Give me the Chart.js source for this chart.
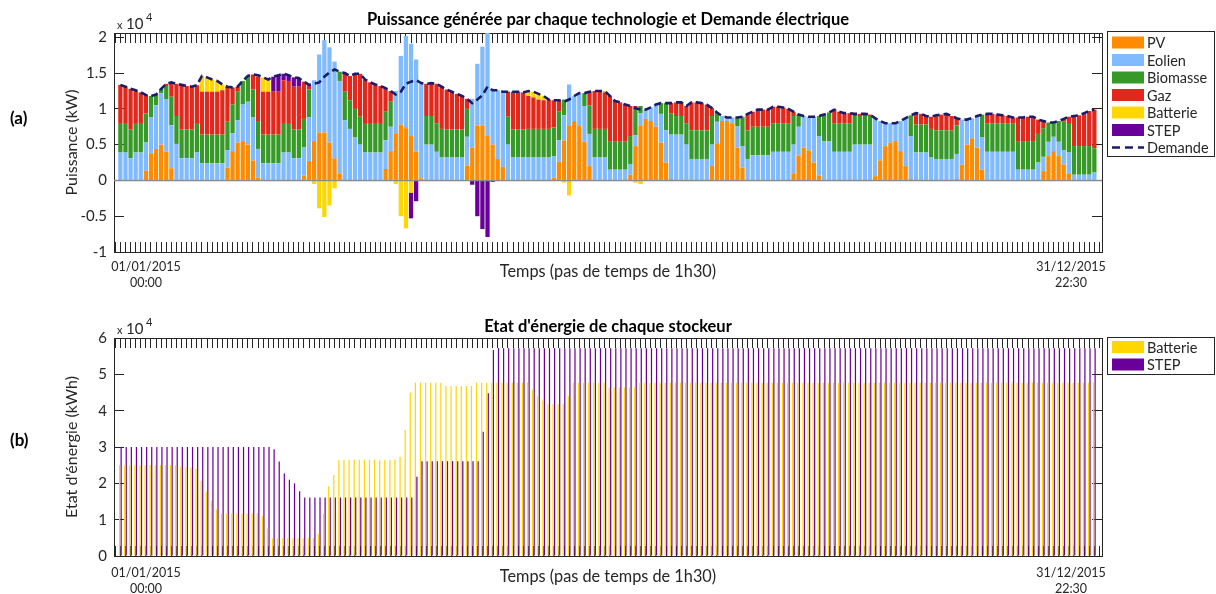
<!DOCTYPE html>
<html lang="fr">
<head>
<meta charset="utf-8">
<title>Puissance et état d'énergie</title>
<script src="https://cdn.jsdelivr.net/npm/chart.js@4.4.1/dist/chart.umd.min.js"></script>
<style>
  html, body { margin: 0; padding: 0; background: #fff; }
  #page { position: relative; width: 1216px; height: 594px; }
  #page canvas { position: absolute; left: 0; }
</style>
</head>
<body>
<div id="page">
  <canvas id="powerChart" width="1216" height="297" style="top:0"></canvas>
  <canvas id="stockChart" width="1216" height="297" style="top:297px"></canvas>
</div>
<script>
// 12 journées types, 16 pas de 1h30 chacune (une ligne = une journée), en kW
const pv = [
  0,0,0,0,0,1350,3800,4400,5000,4000,1700,0,0,0,0,0,
  0,0,0,0,0,1800,4100,5300,5500,5000,2800,400,0,0,0,0,
  0,0,0,0,650,2700,5500,6700,6700,5300,3100,1000,0,0,0,0,
  0,0,0,0,1600,4100,6600,7800,7300,6200,4000,300,0,0,0,0,
  0,0,0,0,2100,4600,7700,7700,6200,5000,3000,1900,0,0,0,0,
  0,0,0,0,0,400,2600,5600,7600,8300,7600,5400,2000,0,0,0,
  0,0,0,0,800,4800,7700,8600,8300,7500,5300,2500,200,0,0,0,
  0,0,0,0,2000,5200,8300,8300,8000,4600,1800,0,0,0,0,0,
  0,0,0,0,1000,3500,4600,4200,2500,700,0,0,0,0,0,0,
  0,0,0,0,600,2800,4800,5300,5500,4100,2000,200,0,0,0,0,
  0,0,0,0,200,2200,5000,5900,4600,1500,0,0,0,0,0,0,
  0,0,0,0,0,1300,3400,4100,3400,2200,900,0,0,0,0,0
];
const eolien = [
  3900,3900,3100,3900,3900,3950,5000,6100,7200,7300,6000,5100,3100,3100,3100,3900,
  2400,2400,2400,2400,2400,2400,2500,3100,5100,6000,6000,4000,2400,2400,2400,2400,
  3900,3900,3100,3100,3950,6100,8500,10900,12900,13300,13500,12900,8400,7200,6000,5000,
  3900,3900,3900,3900,4000,3400,5900,9600,12900,12900,12900,13300,5000,5000,4000,3200,
  3200,3200,3200,3200,4000,6800,8600,11000,14800,7800,9600,10500,5000,3200,3200,3200,
  3200,3200,3200,3200,3200,3000,3000,3500,5800,3500,4600,5000,4500,3200,3200,3200,
  1500,1500,1500,1500,1500,1500,1700,1300,1900,3100,4000,4500,6200,6400,6400,5000,
  3000,3000,3000,3000,3000,3000,700,500,800,3000,3000,3000,3500,3500,3500,3500,
  4000,4000,4000,4000,4000,4000,4400,4700,6400,5500,5500,5500,4000,4000,4000,4000,
  5000,5000,5000,5000,8100,5500,3200,2700,2500,4200,6700,6000,3900,3900,3900,3200,
  3000,3000,3000,3000,3500,6300,3500,2800,4400,4500,4000,4000,4000,4000,4000,4000,
  1500,1500,1500,1500,2500,2000,2000,2000,2000,2000,3000,800,800,800,800,1100
];
const biomasse = [
  4000,4000,4000,4000,4000,4050,3000,1500,600,1900,4000,3900,4000,4000,4000,4000,
  4000,4000,4000,4000,4000,4000,4000,4000,3300,3600,3900,3900,4000,4000,4000,4000,
  4000,4000,4000,4000,4000,3900,0,0,0,0,0,1300,4000,4000,4000,3900,
  4000,4000,4000,4000,4000,3500,0,0,0,0,0,0,4000,4000,4000,4000,
  3900,3900,3900,3900,3900,0,0,0,0,0,0,0,3900,3900,3900,3900,
  4000,4000,4000,4000,4000,4000,4000,2200,0,0,0,1800,4000,4000,4000,4000,
  3900,3900,3900,3900,3900,3900,1000,0,0,0,1500,3800,3000,2600,2600,3000,
  4000,4000,4000,4000,4000,1300,0,0,0,1200,4000,4000,4000,4000,4000,4000,
  4000,4000,4000,4000,4000,1700,0,0,0,2800,3700,4000,4000,4000,4000,4000,
  4000,4000,4000,4000,0,0,0,0,0,0,0,2900,3900,3900,3900,4000,
  4000,4000,4000,4000,4000,0,0,0,0,3200,4000,4000,4000,4000,4000,4000,
  4000,4000,4000,4000,4000,4000,2700,2000,2900,4000,4000,4000,4000,4000,4000,3400
];
const gaz = [
  5450,5200,5700,4700,4400,2600,0,0,0,300,2000,4500,6250,6100,6000,5400,
  6000,6000,6000,6000,6200,4900,2400,700,0,0,2100,6200,6000,6000,6000,6000,
  6100,6000,6000,6000,5200,650,0,0,0,0,0,0,2600,3400,4900,6000,
  6200,5800,5500,5300,3300,1500,0,0,0,0,0,0,4500,4600,5500,5900,
  5600,5300,5000,4700,1400,0,0,0,0,0,0,0,3500,5300,5300,5200,
  4600,4400,4100,4000,4100,3800,1600,0,0,0,0,0,1900,5300,5300,5100,
  6400,5700,5500,5200,4200,200,0,0,0,0,0,0,1400,1900,1900,2400,
  3900,3900,3800,3600,1100,0,0,0,0,0,100,2300,2100,2400,2400,2400,
  2300,2300,2200,2000,600,0,0,0,0,0,0,0,1900,1600,1400,1400,
  300,300,300,200,0,0,0,0,0,0,0,0,1600,1500,1200,1700,
  2100,2200,2300,2000,1000,0,0,0,0,0,1300,1300,1200,1100,1000,800,
  3300,3300,3400,3400,2000,1000,0,0,0,400,1000,4200,4300,4600,4900,5400
];
// positif = décharge, négatif = charge
const batterie = [
  0,0,0,0,0,0,0,0,0,0,0,0,0,0,0,0,
  2200,2000,1700,1500,800,0,0,0,0,0,0,200,2000,1700,0,0,
  0,0,0,0,0,0,-500,-3900,-5100,-3500,-1100,0,0,0,0,0,
  0,0,0,0,0,0,-500,-5000,-6700,-1700,0,0,0,0,0,0,
  0,0,0,0,0,0,0,0,0,0,0,0,0,0,0,0,
  700,800,800,600,0,0,0,-300,-2100,0,0,0,0,0,0,200,
  0,0,0,0,0,-300,-500,0,0,0,0,0,0,0,0,0,
  0,0,0,0,0,0,0,0,0,0,0,0,0,0,0,0,
  0,0,0,0,0,0,0,0,0,0,0,0,0,0,0,0,
  0,0,0,0,0,0,0,0,0,0,0,0,0,0,0,0,
  0,0,0,0,0,0,0,0,0,0,0,0,0,0,0,0,
  0,0,0,0,0,0,0,0,0,0,0,0,0,0,0,0
];
const step = [
  0,0,0,0,0,0,0,0,0,0,0,0,0,0,0,0,
  0,0,0,0,0,0,0,0,0,0,0,0,0,0,2100,2300,
  900,800,1300,1200,0,0,0,0,0,0,0,0,0,0,0,0,
  0,0,0,0,0,0,0,0,0,-3600,-2900,0,0,0,0,0,
  0,0,0,0,0,-600,-5000,-6800,-7900,-200,0,0,0,0,0,0,
  0,0,0,0,0,0,0,0,0,0,0,0,0,0,0,0,
  0,0,0,0,0,0,0,0,0,0,0,0,0,0,0,0,
  0,0,0,0,0,0,0,0,0,0,0,0,0,0,0,0,
  0,0,0,0,0,0,0,0,0,0,0,0,0,0,0,0,
  0,0,0,0,0,0,0,0,0,0,0,0,0,0,0,0,
  0,0,0,0,0,0,0,0,0,0,0,0,0,0,0,0,
  0,0,0,0,0,0,0,0,0,0,0,0,0,0,0,0
];
const demande = [
  13350,13100,12800,12600,12300,11950,11800,12000,12800,13500,13700,13500,13350,13200,13100,13300,
  14600,14400,14100,13900,13400,13100,13000,13100,13900,14600,14800,14700,14400,14100,14500,14700,
  14900,14700,14400,14300,13800,13350,13500,13700,14500,15100,15500,15200,15000,14600,14900,14900,
  14100,13700,13400,13200,12900,12500,12000,12400,13500,13800,14000,13600,13500,13600,13500,13100,
  12700,12400,12100,11800,11400,10800,11300,11900,13100,12600,12600,12400,12400,12400,12400,12300,
  12500,12400,12100,11800,11300,11200,11200,11000,11300,11800,12200,12200,12400,12500,12500,12500,
  11800,11100,10900,10600,10400,10100,9900,9900,10200,10600,10800,10800,10800,10900,10900,10400,
  10900,10900,10800,10600,10100,9500,9000,8800,8800,8800,8900,9300,9600,9900,9900,9900,
  10300,10300,10200,10000,9600,9200,9000,8900,8900,9000,9200,9500,9900,9600,9400,9400,
  9300,9300,9300,9200,8700,8300,8000,8000,8000,8300,8700,9100,9400,9300,9000,8900,
  9100,9200,9300,9000,8700,8500,8500,8700,9000,9200,9300,9300,9200,9100,9000,8800,
  8800,8800,8900,8900,8500,8300,8100,8100,8300,8600,8900,9000,9100,9400,9700,9900
];
// état d'énergie en fin de pas (kWh)
const etatBatterie = [
  25000,25000,25000,25000,25000,25000,25000,25000,25000,25000,25000,25000,24600,24500,24300,24000,
  20700,17700,15200,12800,11700,11700,11700,11700,11700,11700,11700,11700,11000,7600,4900,4900,
  4900,4900,4900,4900,4900,4900,5000,6000,11700,19300,22300,26500,26500,26500,26500,26500,
  26500,26500,26500,26500,26500,26500,26500,27300,34700,45000,47700,47700,47700,47700,47700,47700,
  46800,46800,46800,46800,46800,46800,47700,47700,47700,47700,47700,47700,47700,47700,47700,47700,
  47700,45900,44000,42800,41800,41800,41800,41800,44000,47700,47700,47700,47700,47700,47700,47700,
  46400,46400,46400,46400,46400,46400,47700,47700,47700,47700,47700,47700,47700,47700,47700,47700,
  47700,47700,47700,47700,47700,47700,47700,47700,47700,47700,47700,47700,47700,47700,47700,47700,
  47700,47700,47700,47700,47700,47700,47700,47700,47700,47700,47700,47700,47700,47700,47700,47700,
  47700,47700,47700,47700,47700,47700,47700,47700,47700,47700,47700,47700,47700,47700,47700,47700,
  47700,47700,47700,47700,47700,47700,47700,47700,47700,47700,47700,47700,47700,47700,47700,47700,
  47700,47700,47700,47700,47700,47700,47700,47700,47700,47700,47700,47700,47700,47700,47700,47700
];
const etatStep = [
  30000,30000,30000,30000,30000,30000,30000,30000,30000,30000,30000,30000,30000,30000,30000,30000,
  30000,30000,30000,30000,30000,30000,30000,30000,30000,30000,30000,30000,30000,30000,29400,26000,
  22700,21000,20000,17800,16100,16100,16100,16100,16100,16100,16100,16100,16100,16100,16100,16100,
  16100,16100,16100,16100,16100,16100,16100,16100,16100,16100,21800,26100,26100,26100,26100,26100,
  26100,26100,26100,26100,26100,26100,26100,34200,44800,56700,57200,57200,57200,57200,57200,57200,
  57200,57200,57200,57200,57200,57200,57200,57200,57200,57200,57200,57200,57200,57200,57200,57200,
  57200,57200,57200,57200,57200,57200,57200,57200,57200,57200,57200,57200,57200,57200,57200,57200,
  57200,57200,57200,57200,57200,57200,57200,57200,57200,57200,57200,57200,57200,57200,57200,57200,
  57200,57200,57200,57200,57200,57200,57200,57200,57200,57200,57200,57200,57200,57200,57200,57200,
  57200,57200,57200,57200,57200,57200,57200,57200,57200,57200,57200,57200,57200,57200,57200,57200,
  57200,57200,57200,57200,57200,57200,57200,57200,57200,57200,57200,57200,57200,57200,57200,57200,
  57200,57200,57200,57200,57200,57200,57200,57200,57200,57200,57200,57200,57200,57200,57200,57200
];
// graduations des axes verticaux
const gradPuissance = [-10000, -5000, 0, 5000, 10000, 15000, 20000];
const gradEnergie = [0, 10000, 20000, 30000, 40000, 50000, 60000];

const pasDeTemps = demande.map((_, i) => i);
const gradTemps = [-1].concat(pasDeTemps, [pasDeTemps.length]);

const INK = '#262626';
const FONT = 'Lato, "DejaVu Sans", sans-serif';
Chart.defaults.font.family = FONT;
Chart.defaults.color = INK;
Chart.defaults.animation = false;

const couleurs = {
  PV: '#ff8c00', Eolien: '#80bbff', Biomasse: '#379a28', Gaz: '#e0281c',
  Batterie: '#ffd700', STEP: '#6a0099', Demande: '#1c1c6c'
};

// graduations MATLAB : petits traits tournés vers l'intérieur
function traits() {
  return { display: true, drawOnChartArea: false, drawTicks: true,
           tickLength: -10, tickColor: INK, offset: false };
}
function axeTemps(position, hauteur, titre) {
  return {
    type: 'linear', position, min: -1.25, max: 192.5, offset: false,
    afterBuildTicks: s => { s.ticks = gradTemps.map(v => ({ value: v })); },
    afterFit: s => { s.height = hauteur; },
    ticks: { display: false },
    grid: traits(),
    border: { color: INK, width: 1 },
    title: titre ? Object.assign({ display: true, color: INK, font: { size: 16.3 } }, titre) : { display: false }
  };
}
function axeValeur(position, min, max, grads, titre) {
  const gauche = position === 'left';
  return {
    position, min, max,
    afterBuildTicks: s => { s.ticks = grads.map(v => ({ value: v })); },
    afterFit: s => { s.width = gauche ? 52 : 0; },
    ticks: { display: gauche, padding: 17, font: { size: 15 }, color: INK, callback: v => v / 1e4 },
    grid: traits(),
    border: { color: INK, width: 1 },
    title: gauche ? { display: true, text: titre, color: INK, font: { size: 16 }, padding: 0 } : { display: false }
  };
}

// textes et légende dessinés à la main (style MATLAB)
const habillage = {
  id: 'habillage',
  afterDatasetsDraw(chart, args, o) {
    if (!o.ligneZero) return;
    const { ctx, chartArea: a, scales } = chart;
    const y0 = scales.y.getPixelForValue(0);
    ctx.save();
    ctx.strokeStyle = '#8a8a8a';
    ctx.lineWidth = 1.4;
    ctx.beginPath(); ctx.moveTo(a.left, y0); ctx.lineTo(a.right, y0); ctx.stroke();
    ctx.restore();
  },
  afterDraw(chart, args, o) {
    const { ctx, chartArea: a } = chart;
    ctx.save();
    ctx.fillStyle = '#000';
    ctx.textBaseline = 'alphabetic';
    ctx.textAlign = 'left';
    ctx.font = 'bold 17px ' + FONT;
    ctx.fillText(o.lettre, 10, o.lettreY);

    ctx.fillStyle = INK;
    ctx.font = '11px ' + FONT;
    ctx.fillText('x', a.left + 3, a.top - 4);
    ctx.font = '15px ' + FONT;
    ctx.fillText('10', a.left + 12, a.top - 4);
    ctx.font = '11px ' + FONT;
    ctx.fillText('4', a.left + 32, a.top - 12);

    ctx.font = '12.5px ' + FONT;
    ctx.textAlign = 'center';
    ctx.fillText('01/01/2015', 146, a.bottom + o.dateY);
    ctx.fillText('00:00', 146, a.bottom + o.dateY + 16);
    ctx.fillText('31/12/2015', 1071, a.bottom + o.dateY);
    ctx.fillText('22:30', 1071, a.bottom + o.dateY + 16);

    // légende
    const L = o.legende;
    ctx.fillStyle = '#fff';
    ctx.fillRect(L.x, L.y, L.w, L.h);
    ctx.strokeStyle = INK;
    ctx.lineWidth = 1;
    ctx.strokeRect(L.x + 0.5, L.y + 0.5, L.w, L.h);
    ctx.font = '14.5px ' + FONT;
    ctx.textAlign = 'left';
    ctx.textBaseline = 'middle';
    chart.data.datasets.forEach((ds, k) => {
      const y = L.y + L.premier + k * L.pas;
      if (ds.type === 'line') {
        ctx.strokeStyle = ds.borderColor;
        ctx.lineWidth = 2.6;
        ctx.setLineDash([8, 5]);
        ctx.beginPath(); ctx.moveTo(L.x + 5, y); ctx.lineTo(L.x + 37, y); ctx.stroke();
        ctx.setLineDash([]);
      } else {
        ctx.fillStyle = ds.backgroundColor;
        ctx.fillRect(L.x + 5, y - 6, 32, 12);
      }
      ctx.fillStyle = INK;
      ctx.fillText(ds.label, L.x + 40, y + 1);
    });
    ctx.restore();
  }
};

const barres = [
  ['PV', pv], ['Eolien', eolien], ['Biomasse', biomasse],
  ['Gaz', gaz], ['Batterie', batterie], ['STEP', step]
].map(([nom, valeurs]) => ({
  type: 'bar', label: nom, data: valeurs, backgroundColor: couleurs[nom],
  borderWidth: 0, barPercentage: 0.84, categoryPercentage: 1, stack: 'production', order: 1
}));

new Chart(document.getElementById('powerChart'), {
  type: 'bar',
  data: {
    labels: pasDeTemps,
    datasets: barres.concat([{
      type: 'line', label: 'Demande', data: demande, borderColor: couleurs.Demande,
      borderWidth: 2.6, borderDash: [7, 4], pointRadius: 0, tension: 0, fill: false,
      stack: 'demande', order: 0
    }])
  },
  options: {
    responsive: false, maintainAspectRatio: false, events: [],
    layout: { padding: { left: 62, right: 114, top: 0, bottom: 0 } },
    scales: {
      x: Object.assign(axeTemps('bottom', 45, { text: 'Temps (pas de temps de 1h30)', padding: { top: 0, bottom: 15 } }), { stacked: true }),
      xHaut: axeTemps('top', 0),
      y: Object.assign(axeValeur('left', -10000, 20600, gradPuissance, 'Puissance (kW)'), { stacked: true }),
      yDroite: axeValeur('right', -10000, 20600, gradPuissance)
    },
    plugins: {
      legend: { display: false },
      tooltip: { enabled: false },
      title: { display: true, fullSize: false, color: '#000',
               text: 'Puissance générée par chaque technologie et Demande électrique',
               font: { size: 16.5, weight: 'bold' }, padding: { top: 9.5, bottom: 3.7 } },
      habillage: { lettre: '(a)', lettreY: 124, dateY: 19, ligneZero: true,
                   legende: { x: 1107, y: 31, w: 107, h: 125, premier: 11.5, pas: 17.5 } }
    }
  },
  plugins: [habillage]
});

new Chart(document.getElementById('stockChart'), {
  type: 'bar',
  data: {
    labels: pasDeTemps,
    datasets: [
      { label: 'Batterie', data: etatBatterie, backgroundColor: couleurs.Batterie,
        borderWidth: 0, categoryPercentage: 0.6, barPercentage: 0.8 },
      { label: 'STEP', data: etatStep, backgroundColor: couleurs.STEP,
        borderWidth: 0, categoryPercentage: 0.6, barPercentage: 0.8 }
    ]
  },
  options: {
    responsive: false, maintainAspectRatio: false, events: [],
    layout: { padding: { left: 62, right: 114, top: 0, bottom: 0 } },
    scales: {
      x: axeTemps('bottom', 38, { text: 'Temps (pas de temps de 1h30)', padding: { top: 0, bottom: 7 } }),
      xHaut: axeTemps('top', 0),
      y: axeValeur('left', 0, 60000, gradEnergie, "Etat d'énergie (kWh)"),
      yDroite: axeValeur('right', 0, 60000, gradEnergie)
    },
    plugins: {
      legend: { display: false },
      tooltip: { enabled: false },
      title: { display: true, fullSize: false, color: '#000',
               text: "Etat d'énergie de chaque stockeur",
               font: { size: 16.5, weight: 'bold' }, padding: { top: 19.6, bottom: 1.6 } },
      habillage: { lettre: '(b)', lettreY: 149, dateY: 21, ligneZero: false,
                   legende: { x: 1107, y: 40, w: 107, h: 37, premier: 10, pas: 17.5 } }
    }
  },
  plugins: [habillage]
});
</script>
</body>
</html>
